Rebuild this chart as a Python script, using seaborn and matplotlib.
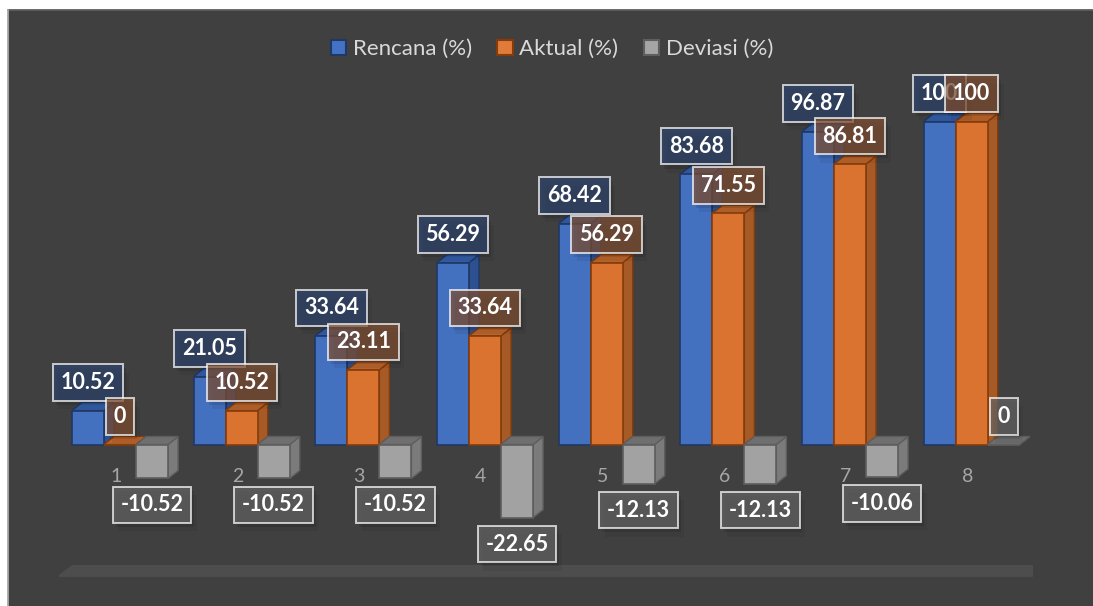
import numpy as np
import pandas as pd
import matplotlib
matplotlib.use("Agg")
import matplotlib.pyplot as plt
import seaborn as sns
from matplotlib.patches import Polygon, Rectangle, Patch
from matplotlib.lines import Line2D
from matplotlib import patheffects as pe

# ---- data -------------------------------------------------------------
categories = ["1", "2", "3", "4", "5", "6", "7", "8"]
rencana = [10.52, 21.05, 33.64, 56.29, 68.42, 83.68, 96.87, 100]
aktual = [0, 10.52, 23.11, 33.64, 56.29, 71.55, 86.81, 100]
deviasi = [-10.52, -10.52, -10.52, -22.65, -12.13, -12.13, -10.06, 0]
series_names = ["Rencana (%)", "Aktual (%)", "Deviasi (%)"]

df = pd.DataFrame({
    "Periode": categories * 3,
    "Seri": np.repeat(series_names, len(categories)),
    "Nilai": rencana + aktual + deviasi,
})

# ---- styling ----------------------------------------------------------
front = {"Rencana (%)": "#4470c0", "Aktual (%)": "#d9732f", "Deviasi (%)": "#a2a2a2"}
side = {"Rencana (%)": "#2d5190", "Aktual (%)": "#a65b26", "Deviasi (%)": "#7b7b7b"}
top = {"Rencana (%)": "#345da6", "Aktual (%)": "#b8642b", "Deviasi (%)": "#6f6f6f"}
edge = {"Rencana (%)": "#1f3864", "Aktual (%)": "#843c0c", "Deviasi (%)": "#5e5e5e"}
label_fc = {"Rencana (%)": "#2e446b", "Aktual (%)": "#7e4e32", "Deviasi (%)": "#636363"}
legend_fc = {"Rencana (%)": "#4472c4", "Aktual (%)": "#e07b39", "Deviasi (%)": "#a5a5a5"}

sns.set_theme(style="dark")
plt.rcParams["font.family"] = ["Lato", "DejaVu Sans"]

W, H = 1093, 606
fig = plt.figure(figsize=(W / 100, H / 100), dpi=100, facecolor="white")

# dark chart area with its thin frame
fig.add_artist(Rectangle((8 / W, 0), 1 - 8 / W, 1 - 10 / H, transform=fig.transFigure,
                         fc="#404040", ec="none", zorder=0))
fig.add_artist(Line2D([8 / W, 1], [1 - 10 / H] * 2, color="#5e5e5e", lw=1.3,
                      transform=fig.transFigure, zorder=1))
fig.add_artist(Line2D([8 / W] * 2, [0, 1 - 10 / H], color="#a8a8a8", lw=1.3,
                      transform=fig.transFigure, zorder=1))

ax = fig.add_axes([59.2 / W, 16.15 / H, 973.3 / W, 500.65 / H])
ax.set_facecolor("none")

sns.barplot(data=df, x="Periode", y="Nilai", hue="Seri", order=categories,
            hue_order=series_names, palette=front, width=0.79, gap=0,
            saturation=1, dodge=True, legend=False, ax=ax, zorder=3)

ax.set_xlim(-0.5, len(categories) - 0.5)
ax.set_ylim(-45, 110)
for s in ax.spines.values():
    s.set_visible(False)
ax.set_xticks([])
ax.set_yticks([])
ax.set_xlabel("")
ax.set_ylabel("")
ax.grid(False)

# pixel -> data unit factors for the 3D depth faces
fig.canvas.draw()
xl, yl = ax.get_xlim(), ax.get_ylim()
ux = (xl[1] - xl[0]) / ax.bbox.width
uy = (yl[1] - yl[0]) / ax.bbox.height
dx, dy = 10 * ux, 8 * uy

# floor slab under the columns
fy0, fy1 = -41.0, -37.3
floor = Polygon([(xl[0] - 3 * ux, fy0), (xl[1], fy0),
                 (xl[1] + 14 * ux, fy1), (xl[0] + 13 * ux, fy1)],
                closed=True, fc="#4e4d4d", ec="none", zorder=1)
ax.add_patch(floor)

shadow = [pe.SimplePatchShadow(offset=(2, -3), shadow_rgbFace="black", alpha=0.10),
          pe.SimplePatchShadow(offset=(4, -6), shadow_rgbFace="black", alpha=0.06),
          pe.Normal()]

for k, (name, cont) in enumerate(zip(series_names, ax.containers)):
    for bar in cont:
        x0, w, v = bar.get_x(), bar.get_width(), bar.get_height()
        lo, hi = min(0, v), max(0, v)
        x1 = x0 + w
        z = 3 + 0.01 * (x0 + 1) * 10
        bar.set_zorder(z + 0.003)
        bar.set_edgecolor(edge[name])
        bar.set_linewidth(1.2)
        side_face = Polygon([(x1, lo), (x1, hi), (x1 + dx, hi + dy), (x1 + dx, lo + dy)],
                            closed=True, fc=side[name], ec=edge[name], lw=1.0,
                            zorder=z + 0.001)
        top_face = Polygon([(x0, hi), (x1, hi), (x1 + dx, hi + dy), (x0 + dx, hi + dy)],
                           closed=True, fc=top[name], ec=edge[name], lw=1.0,
                           zorder=z + 0.002)
        ax.add_patch(side_face)
        ax.add_patch(top_face)

        off = 20.2 if v >= 0 else -19.0
        t = ax.annotate(f"{v:g}", xy=(x0 + w / 2, hi if v >= 0 else lo),
                        xytext=(0, off), textcoords="offset points",
                        ha="center", va="center", fontsize=15.5, fontweight="bold",
                        color="white", zorder=10 + k,
                        bbox=dict(boxstyle="square,pad=0.36", fc=label_fc[name],
                                  ec=(1, 1, 1, 0.45), lw=1.4, alpha=0.72))
        t.get_bbox_patch().set_path_effects(shadow)

# category names sitting on the floor line
for i, c in enumerate(categories):
    ax.annotate(c, xy=(i, 0), xytext=(-3, -23.4), textcoords="offset points",
                ha="center", va="center", fontsize=14, color="#a6a6a6", zorder=2)

handles = [Patch(fc=legend_fc[n], ec=edge[n], lw=1.5) for n in series_names]
fig.legend(handles, series_names, loc="center", bbox_to_anchor=(0.505, 1 - 49 / H),
           ncol=3, frameon=False, fontsize=16, labelcolor="#d9d9d9",
           handlelength=0.68, handleheight=0.68, handletextpad=0.3,
           columnspacing=1.15)

fig.savefig("out.png", dpi=100, facecolor=fig.get_facecolor())
